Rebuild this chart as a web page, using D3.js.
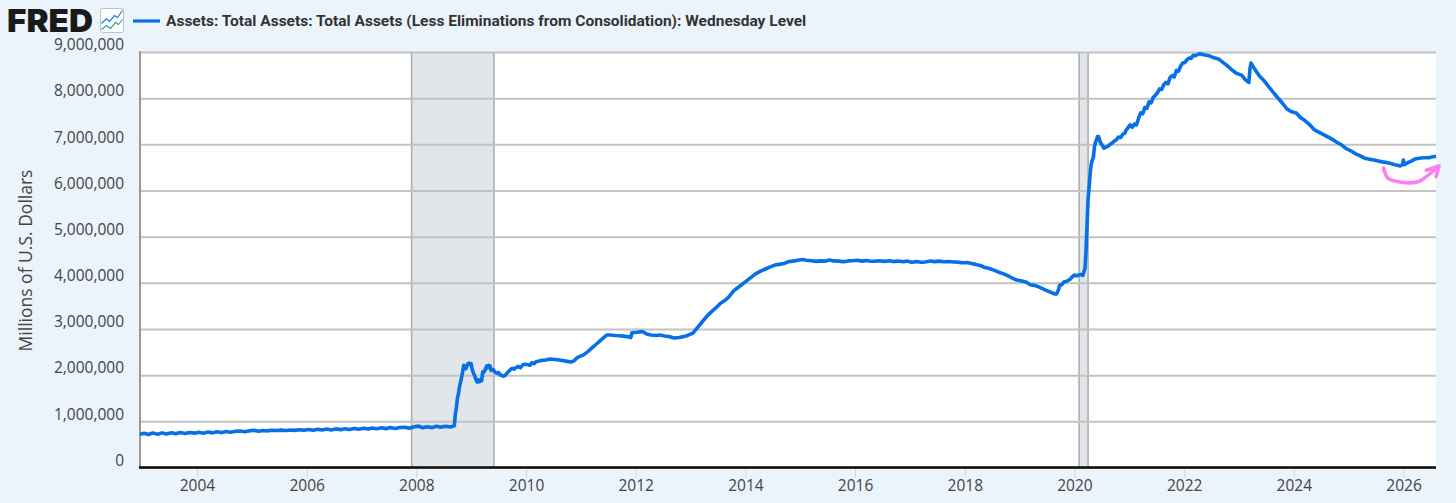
<!DOCTYPE html>
<html>
<head>
<meta charset="utf-8">
<title>FRED total assets</title>
<script src="https://cdn.jsdelivr.net/npm/d3@7/dist/d3.min.js"></script>
<style>
html,body{margin:0;padding:0;background:#ebf3fb;}
svg{display:block;}
text{fill:#444;font-family:"Open Sans",sans-serif;}
</style>
</head>
<body>
<div id="chart"></div>
<script>
// Wednesday level, millions of dollars (thinned out)
var dates = [
"2002-12-18",
"2003-01-15","2003-02-12","2003-03-12","2003-04-16","2003-05-14","2003-06-11","2003-07-16","2003-08-13","2003-09-10","2003-10-15","2003-11-12","2003-12-17",
"2004-01-14","2004-02-11","2004-03-17","2004-04-14","2004-05-12","2004-06-16","2004-07-14","2004-08-11","2004-09-15","2004-10-13","2004-11-17","2004-12-15",
"2005-01-12","2005-02-16","2005-03-16","2005-04-13","2005-05-11","2005-06-15","2005-07-13","2005-08-17","2005-09-14","2005-10-12","2005-11-16","2005-12-14",
"2006-01-11","2006-02-15","2006-03-15","2006-04-12","2006-05-17","2006-06-14","2006-07-12","2006-08-16","2006-09-13","2006-10-11","2006-11-15","2006-12-13",
"2007-01-17","2007-02-14","2007-03-14","2007-04-11","2007-05-16","2007-06-13","2007-07-11","2007-08-15","2007-09-12","2007-10-17","2007-11-14","2007-12-19",
"2008-01-16","2008-02-13","2008-03-12","2008-04-16","2008-05-14","2008-06-11","2008-07-16","2008-08-13","2008-09-10","2008-09-17","2008-09-24","2008-10-01","2008-10-08","2008-10-15","2008-10-29","2008-11-05","2008-11-12","2008-11-19","2008-11-26","2008-12-03","2008-12-10","2008-12-17","2008-12-24","2008-12-31",
"2009-01-07","2009-01-14","2009-01-21","2009-02-04","2009-02-11","2009-02-18","2009-02-25","2009-03-04","2009-03-11","2009-03-18","2009-03-25","2009-04-01","2009-04-08","2009-04-15","2009-04-22","2009-04-29","2009-05-06","2009-05-13","2009-05-27","2009-06-03","2009-06-10","2009-06-24","2009-07-01","2009-07-15","2009-07-29","2009-08-05","2009-08-19","2009-09-02","2009-09-16","2009-09-30","2009-10-14","2009-10-28","2009-11-11","2009-11-25","2009-12-09","2009-12-23",
"2010-01-13","2010-01-27","2010-02-10","2010-02-24","2010-03-10","2010-03-24","2010-04-14","2010-05-12","2010-06-09","2010-07-14","2010-08-11","2010-09-15","2010-10-27","2010-11-17","2010-12-08","2010-12-22",
"2011-01-19","2011-02-16","2011-03-16","2011-04-13","2011-05-18","2011-06-22","2011-07-13","2011-08-17","2011-09-14","2011-10-12","2011-11-16","2011-11-30","2011-12-07",
"2012-01-11","2012-02-15","2012-03-14","2012-04-11","2012-05-16","2012-06-13","2012-07-11","2012-08-15","2012-09-12","2012-10-17","2012-11-14","2012-12-12",
"2013-01-16","2013-02-13","2013-03-13","2013-04-17","2013-05-15","2013-06-12","2013-07-17","2013-08-14","2013-09-11","2013-10-16","2013-11-13","2013-12-18",
"2014-01-15","2014-02-12","2014-03-12","2014-04-16","2014-05-14","2014-06-11","2014-07-16","2014-08-13","2014-09-17","2014-10-15","2014-11-12","2014-12-17",
"2015-01-14","2015-02-11","2015-03-18","2015-04-15","2015-05-13","2015-06-17","2015-07-15","2015-08-12","2015-09-16","2015-10-14","2015-11-18","2015-12-16",
"2016-01-13","2016-02-17","2016-03-16","2016-04-13","2016-05-18","2016-06-15","2016-07-13","2016-08-17","2016-09-14","2016-10-12","2016-11-16","2016-12-14",
"2017-01-11","2017-02-15","2017-03-15","2017-04-12","2017-05-17","2017-06-14","2017-07-12","2017-08-16","2017-09-13","2017-10-18","2017-11-15","2017-12-13",
"2018-01-17","2018-02-14","2018-03-14","2018-04-18","2018-05-16","2018-06-13","2018-07-18","2018-08-15","2018-09-12","2018-10-17","2018-11-14","2018-12-12",
"2019-01-16","2019-02-13","2019-03-13","2019-04-17","2019-05-15","2019-06-12","2019-07-17","2019-08-07","2019-08-21","2019-09-04","2019-09-18","2019-09-25","2019-10-09","2019-10-23","2019-11-06","2019-11-20","2019-12-04","2019-12-18","2019-12-31",
"2020-01-15","2020-01-29","2020-02-12","2020-02-26","2020-03-04","2020-03-11","2020-03-18","2020-03-25","2020-04-01","2020-04-08","2020-04-15","2020-04-22","2020-04-29","2020-05-06","2020-05-13","2020-05-20","2020-05-27","2020-06-03","2020-06-10","2020-06-17","2020-06-24","2020-07-01","2020-07-15","2020-07-29","2020-08-12","2020-08-26","2020-09-09","2020-09-23","2020-10-07","2020-10-21","2020-11-04","2020-11-18","2020-12-02","2020-12-09","2020-12-23",
"2021-01-06","2021-01-20","2021-02-03","2021-02-17","2021-03-03","2021-03-17","2021-03-31","2021-04-14","2021-04-28","2021-05-12","2021-05-26","2021-06-09","2021-06-23","2021-07-07","2021-07-21","2021-08-04","2021-08-18","2021-09-01","2021-09-15","2021-09-29","2021-10-13","2021-10-27","2021-11-10","2021-11-24","2021-12-08","2021-12-22",
"2022-01-05","2022-01-19","2022-02-02","2022-02-16","2022-03-02","2022-03-16","2022-04-13","2022-05-11","2022-06-15","2022-07-13","2022-08-17","2022-09-14","2022-10-12","2022-11-16","2022-12-14",
"2023-01-18","2023-02-15","2023-03-08","2023-03-15","2023-03-22","2023-04-12","2023-05-17","2023-06-14","2023-07-12","2023-08-16","2023-09-13","2023-10-18","2023-11-15","2023-12-13",
"2024-01-17","2024-02-14","2024-03-13","2024-04-17","2024-05-15","2024-06-12","2024-07-17","2024-08-14","2024-09-18","2024-10-16","2024-11-13","2024-12-18",
"2025-01-15","2025-02-12","2025-03-12","2025-04-16","2025-05-14","2025-06-18","2025-07-16","2025-08-13","2025-09-17","2025-10-15","2025-11-12","2025-12-10","2025-12-24","2025-12-31","2026-01-07",
"2026-01-21","2026-02-18","2026-03-18","2026-04-15","2026-05-13","2026-06-17","2026-07-15","2026-08-05"
];
var assets = [
722,
742,716,746,722,750,724,752,730,756,736,758,744,
762,744,768,750,774,756,778,764,784,792,776,794,
806,786,802,794,806,800,810,800,812,804,818,806,
824,806,828,812,834,814,836,820,840,824,846,830,
850,832,856,838,860,842,864,846,866,870,850,882,
896,862,884,864,892,874,892,876,902,1150,1300,1500,1600,1750,1950,2080,2215,2200,2140,2190,2250,2260,2240,2250,
2130,2060,2010,1880,1850,1900,1860,1900,1880,2070,2060,2090,2160,2200,2160,2210,2200,2100,2120,2090,2060,2040,2060,2000,1990,1975,2010,2065,2110,2150,2130,2170,2190,2160,2220,2235,
2225,2215,2270,2250,2295,2300,2320,2330,2350,2340,2330,2310,2285,2310,2380,2400,
2440,2510,2590,2670,2770,2870,2870,2860,2855,2845,2830,2815,2920,
2930,2945,2890,2870,2860,2870,2850,2830,2805,2815,2835,2860,
2910,3020,3130,3270,3360,3440,3550,3610,3690,3830,3900,3990,
4060,4130,4200,4260,4300,4340,4385,4400,4420,4460,4470,4490,
4505,4490,4480,4465,4475,4470,4495,4475,4470,4455,4475,4480,
4490,4470,4485,4468,4470,4480,4465,4480,4460,4472,4455,4470,
4445,4460,4445,4452,4472,4460,4470,4455,4462,4450,4448,4436,
4440,4420,4400,4370,4330,4310,4270,4230,4200,4150,4100,4060,
4040,4020,3960,3940,3900,3860,3810,3780,3760,3760,3860,3950,3960,4020,4030,4050,4080,4130,4170,
4150,4170,4180,4160,4240,4310,4670,5250,5810,6080,6370,6570,6660,6720,6930,7040,7100,7170,7170,7090,7020,7000,6920,6940,6960,7000,7030,7070,7100,7160,7150,7220,7240,7300,7360,
7420,7370,7440,7420,7560,7680,7660,7800,7780,7920,7900,8020,8060,8120,8200,8190,8290,8340,8310,8450,8490,8460,8600,8580,8690,8760,
8770,8830,8870,8860,8930,8920,8960,8940,8920,8880,8850,8780,8710,8610,8540,
8500,8390,8340,8640,8760,8650,8480,8390,8270,8130,8020,7890,7770,7710,
7680,7580,7520,7420,7320,7270,7210,7160,7100,7040,6990,6900,
6860,6800,6760,6700,6680,6660,6640,6620,6600,6580,6550,6530,6560,6660,6560,
6590,6630,6680,6700,6710,6710,6730,6740
];
var yTicks = [0,1000000,2000000,3000000,4000000,5000000,6000000,7000000,8000000,9000000];
var xTickYears = [2004,2006,2008,2010,2012,2014,2016,2018,2020,2022,2024,2026];
var recessionStart = ["2007-12-01","2020-02-01"];
var recessionEnd = ["2009-06-01","2020-04-01"];
var seriesTitle = "Assets: Total Assets: Total Assets (Less Eliminations from Consolidation): Wednesday Level";
var yTitle = "Millions of U.S. Dollars";
// pink hand drawn arrow, same units as the series
var scribbleDates = ["2025-08-21","2025-09-18","2025-11-24","2026-04-07","2026-06-01","2026-08-17"];
var scribbleValues = [6487,6270,6190,6190,6300,6515];
var arrowDates = ["2026-06-01","2026-08-25","2026-08-06"];
var arrowValues = [6440,6530,6300];

var W = 1456, H = 503;
var plot = {left:140,right:1436,top:52,bottom:467.5};
var blue = "#0770e6", grey = "#c2c2c2", pinkColor = "#fb7fee";

var parseDate = d3.utcParse("%Y-%m-%d");
var series = d3.zip(dates,assets).map(function(d){return {date:parseDate(d[0]),value:d[1]};});

var x = d3.scaleUtc()
  .domain([parseDate("2002-12-18"),parseDate("2026-08-05")])
  .range([plot.left,plot.right]);
var y = d3.scaleLinear().domain([0,9000000]).range([plot.bottom,plot.top]);

var svg = d3.select("#chart").append("svg").attr("width",W).attr("height",H);

// white plot area
svg.append("rect")
  .attr("x",plot.left).attr("y",plot.top)
  .attr("width",plot.right-plot.left).attr("height",plot.bottom-plot.top)
  .attr("fill","#fff");

// recessions
var rec = svg.append("g").selectAll("g").data(d3.zip(recessionStart,recessionEnd)).enter().append("g");
rec.append("rect")
  .attr("x",function(d){return x(parseDate(d[0]));})
  .attr("y",plot.top)
  .attr("width",function(d){return x(parseDate(d[1]))-x(parseDate(d[0]));})
  .attr("height",plot.bottom-plot.top)
  .attr("fill","#e1e6ea");
rec.selectAll("line").data(function(d){return d;}).enter().append("line")
  .attr("x1",function(d){return x(parseDate(d));})
  .attr("x2",function(d){return x(parseDate(d));})
  .attr("y1",plot.top).attr("y2",plot.bottom)
  .attr("stroke","#adadad").attr("stroke-width",1.6);

// y axis with the labels sitting above the grid lines
var yAxis = svg.append("g")
  .attr("transform","translate("+plot.left+",0)")
  .call(d3.axisLeft(y).tickValues(yTicks).tickFormat(d3.format(",")).tickSize(-(plot.right-plot.left)).tickPadding(16));
yAxis.select(".domain").remove();
yAxis.selectAll("line").attr("stroke",grey).attr("stroke-width",2);
yAxis.selectAll("text")
  .attr("dy","-0.15em")
  .style("font-size","15.5px")
  .style("fill","#444")
  .style("font-family",'"Open Sans",sans-serif');

// left border
svg.append("line")
  .attr("x1",plot.left).attr("x2",plot.left)
  .attr("y1",plot.top-1).attr("y2",plot.bottom)
  .attr("stroke","#999").attr("stroke-width",2);

// x axis
var xAxis = svg.append("g")
  .attr("transform","translate(0,"+plot.bottom+")")
  .call(d3.axisBottom(x)
    .tickValues(xTickYears.map(function(yr){return new Date(Date.UTC(yr,0,1));}))
    .tickFormat(d3.utcFormat("%Y")).tickSize(10).tickPadding(2.5));
xAxis.select(".domain").remove();
xAxis.selectAll("line").attr("stroke","#ccd6eb");
xAxis.selectAll("text")
  .style("font-size","15.5px")
  .style("fill","#444")
  .style("font-family",'"Open Sans",sans-serif');
svg.append("line")
  .attr("x1",plot.left-1).attr("x2",plot.right)
  .attr("y1",plot.bottom).attr("y2",plot.bottom)
  .attr("stroke","#0a0a0a").attr("stroke-width",2.4);

// the series
var line = d3.line().x(function(d){return x(d.date);}).y(function(d){return y(d.value*1000);});
svg.append("path").datum(series)
  .attr("d",line)
  .attr("fill","none")
  .attr("stroke",blue)
  .attr("stroke-width",3.6)
  .attr("stroke-linejoin","round");

// scribble
var pink = d3.line()
  .x(function(d){return x(parseDate(d[0]));})
  .y(function(d){return y(d[1]*1000);})
  .curve(d3.curveCatmullRom);
svg.append("path").datum(d3.zip(scribbleDates,scribbleValues))
  .attr("d",pink).attr("fill","none").attr("stroke",pinkColor).attr("stroke-width",3.6).attr("stroke-linecap","round");
svg.append("path").datum(d3.zip(arrowDates,arrowValues))
  .attr("d",pink.curve(d3.curveLinear)).attr("fill","none").attr("stroke",pinkColor).attr("stroke-width",3.6)
  .attr("stroke-linecap","round").attr("stroke-linejoin","round");

// y title
svg.append("text")
  .attr("transform","translate(32,260.5) rotate(-90)")
  .attr("text-anchor","middle")
  .style("font-size","17.5px")
  .text(yTitle);

// header: logo, icon, legend
svg.append("text")
  .attr("x",7).attr("y",32)
  .attr("textLength",86).attr("lengthAdjust","spacingAndGlyphs")
  .style("font-family","Inter,sans-serif").style("font-weight",900).style("font-size","32px").style("fill","#1a1a1a")
  .text("FRED");
var icon = svg.append("g").attr("transform","translate(100.5,8.5)");
icon.append("rect").attr("width",23).attr("height",24).attr("rx",2).attr("fill","#fff").attr("stroke","#bcc4cc");
var iconLine = d3.line();
icon.append("path").attr("d",iconLine([[1,15],[6,10],[9,13],[14,7],[17,9],[22,2]])).attr("fill","none").attr("stroke","#1b7fe0").attr("stroke-width",1.2);
icon.append("path").attr("d",iconLine([[1,21],[6,17],[10,20],[15,14],[18,16],[22,11]])).attr("fill","none").attr("stroke","#2aa58e").attr("stroke-width",1.2);

svg.append("line")
  .attr("x1",133).attr("x2",160).attr("y1",21).attr("y2",21)
  .attr("stroke",blue).attr("stroke-width",3.2);
svg.append("text")
  .attr("x",166).attr("y",25.5)
  .style("font-family","Roboto,sans-serif").style("font-weight",700).style("font-size","15.5px").style("fill","#333")
  .text(seriesTitle);
</script>
</body>
</html>
